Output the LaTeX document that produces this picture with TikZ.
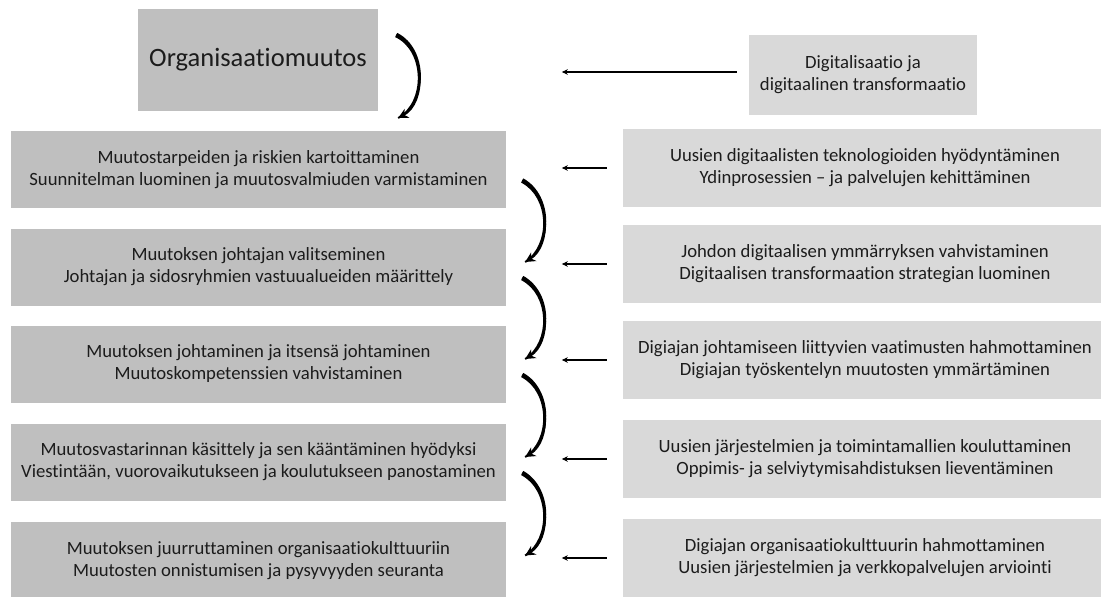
\documentclass[tikz,border=0pt]{standalone}
\usepackage{fontspec}
\setmainfont{Carlito}[Ligatures={NoCommon}]
\usetikzlibrary{calc,arrows.meta}

\definecolor{stepgray}{HTML}{BFBFBF}
\definecolor{digigray}{HTML}{D9D9D9}
\definecolor{inktext}{HTML}{1C1C1C}

% tapered bent arrow: start, end, first control offset, second control offset
\newcommand{\bendflow}[4]{%
  \fill[black] ($(#1)+(1.1,-2.1)$)
    .. controls ($(#1)+#3+(2.6,-1)$) and ($(#2)+#4+(2,0.5)$) .. ($(#2)+(0.5,0.8)$)
    -- ($(#2)+(-0.5,-0.8)$)
    .. controls ($(#2)+#4+(-1,-0.3)$) and ($(#1)+#3+(-1.6,0.5)$) .. ($(#1)+(-1.1,2.1)$)
    -- cycle;
  \draw[flow] (#1) .. controls ($(#1)+#3$) and ($(#2)+#4$) .. (#2);
}

\begin{document}
\begin{tikzpicture}[x=1pt,y=-1pt,
  basebox/.style={inner sep=0pt, align=center, text=inktext,
    font=\fontsize{18.7}{22}\selectfont},
  stepbox/.style={basebox, fill=stepgray, minimum width=495pt, minimum height=77pt},
  digibox/.style={basebox, fill=digigray, minimum width=484pt, minimum height=78pt},
  flow/.style={line width=1.8pt, -{Stealth[length=10pt,width=10pt]}},
  feed/.style={line width=1.7pt, -{Stealth[length=6pt,width=5.5pt]}}]

\useasboundingbox (0,0) rectangle (1101,597);

% headline boxes
\node[basebox, fill=stepgray, minimum width=240pt, minimum height=102pt,
      font=\fontsize{26.5}{30}\selectfont] (org) at (258,60) {Organisaatiomuutos};
\node[basebox, fill=digigray, minimum width=228pt, minimum height=80pt] (dig) at (863,75)
  {Digitalisaatio ja\\digitaalinen transformaatio};

% change-management steps (left column)
\node[stepbox] (L1) at (258.5,169.5) {Muutostarpeiden ja riskien kartoittaminen\\Suunnitelman luominen ja muutosvalmiuden varmistaminen};
\node[stepbox] (L2) at (258.5,267) {Muutoksen johtajan valitseminen\\Johtajan ja sidosryhmien vastuualueiden määrittely};
\node[stepbox] (L3) at (258.5,364) {Muutoksen johtaminen ja itsensä johtaminen\\Muutoskompetenssien vahvistaminen};
\node[stepbox] (L4) at (258.5,462) {Muutosvastarinnan käsittely ja sen kääntäminen hyödyksi\\Viestintään, vuorovaikutukseen ja koulutukseen panostaminen};
\node[stepbox] (L5) at (258.5,560.5) {Muutoksen juurruttaminen organisaatiokulttuuriin\\Muutosten onnistumisen ja pysyvyyden seuranta};

% digital transformation counterparts (right column)
\node[digibox] (R1) at (865,168) {Uusien digitaalisten teknologioiden hyödyntäminen\\Ydinprosessien – ja palvelujen kehittäminen};
\node[digibox] (R2) at (865,264) {Johdon digitaalisen ymmärryksen vahvistaminen\\Digitaalisen transformaation strategian luominen};
\node[digibox] (R3) at (865,360) {Digiajan johtamiseen liittyvien vaatimusten hahmottaminen\\Digiajan työskentelyn muutosten ymmärtäminen};
\node[digibox] (R4) at (865,459) {Uusien järjestelmien ja toimintamallien kouluttaminen\\Oppimis- ja selviytymisahdistuksen lieventäminen};
\node[digibox] (R5) at (865,558) {Digiajan organisaatiokulttuurin hahmottaminen\\Uusien järjestelmien ja verkkopalvelujen arviointi};

% curved arrows down the left column
\coordinate (s0) at ($(org.east)+(18,-25)$);
\coordinate (e0) at ($(org.east)+(20,58)$);
\bendflow{s0}{e0}{(30,15)}{(28,-15)}
\foreach \a/\b in {L1/L2,L2/L3,L3/L4,L4/L5}{
  \coordinate (s-\a) at ($(\a.east)+(16,11)$);
  \coordinate (e-\a) at ($(\b.east)+(19,-5)$);
  \bendflow{s-\a}{e-\a}{(29,16)}{(26,-16)}
}

% influence arrows from right to left
\draw[feed] ([xshift=-12pt,yshift=3pt]dig.west) -- ([xshift=-187pt,yshift=3pt]dig.west);
\foreach \r in {R1,R2,R3,R4,R5}{
  \draw[feed] ([xshift=-16pt]\r.west) -- ([xshift=-61pt]\r.west);
}
\end{tikzpicture}
\end{document}
